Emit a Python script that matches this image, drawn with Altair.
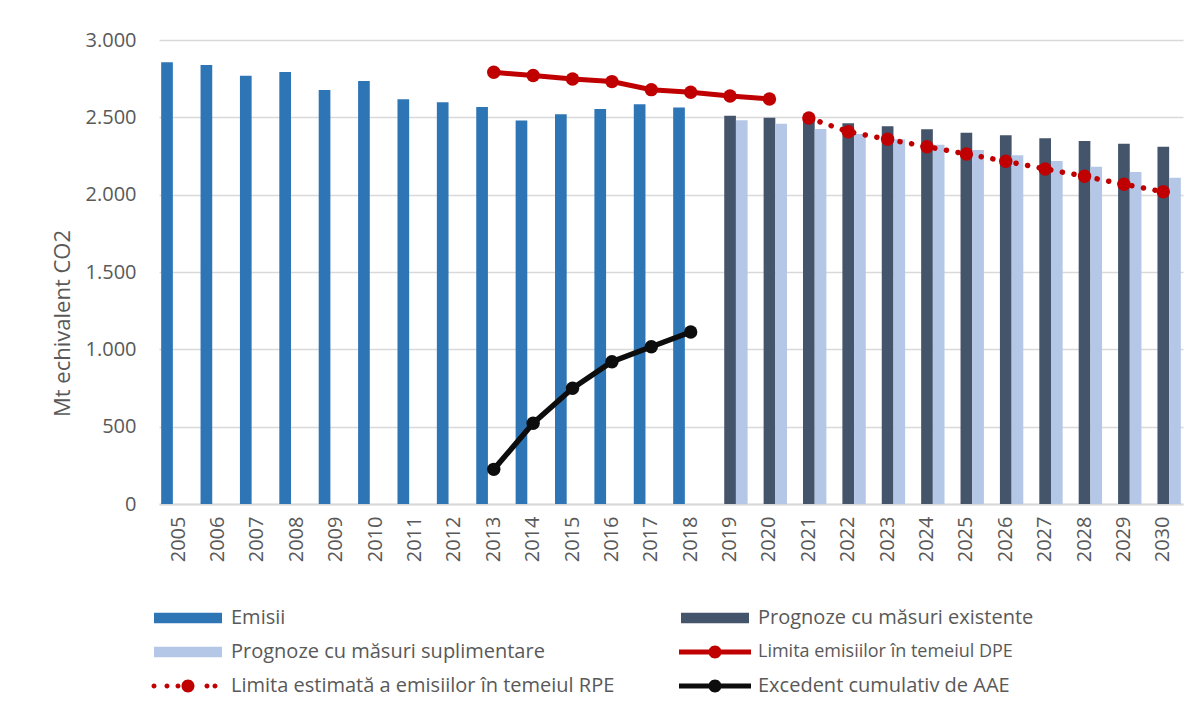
import altair as alt
import pandas as pd

years = ["2005", "2006", "2007", "2008", "2009", "2010", "2011", "2012", "2013",
         "2014", "2015", "2016", "2017", "2018", "2019", "2020", "2021", "2022",
         "2023", "2024", "2025", "2026", "2027", "2028", "2029", "2030"]

series_names = ["Emisii",
                "Prognoze cu măsuri existente",
                "Prognoze cu măsuri suplimentare",
                "Limita emisiilor în temeiul DPE",
                "Limita estimată a emisiilor în temeiul RPE",
                "Excedent cumulativ de AAE"]

emisii_years = years[0:14]
emisii = [2856, 2839, 2769, 2793, 2677, 2735, 2617, 2597, 2567, 2479, 2520, 2554, 2584, 2563]

proj_years = years[14:]
existente = [2511, 2498, 2480, 2462, 2442, 2423, 2401, 2384, 2364, 2347, 2330, 2310]
suplimentare = [2481, 2459, 2425, 2392, 2358, 2323, 2289, 2255, 2218, 2181, 2147, 2110]

dpe_years = years[8:16]
dpe = [2791, 2770, 2748, 2731, 2679, 2662, 2638, 2619]

rpe_years = years[16:]
rpe = [2496, 2407, 2358, 2310, 2263, 2216, 2166, 2119, 2067, 2019]

aae_years = years[8:14]
aae = [224, 522, 748, 920, 1017, 1112]

y_ticks = [0, 500, 1000, 1500, 2000, 2500, 3000]

colors = ["#2E75B6", "#44546A", "#B4C7E7", "#C00000", "#C00000", "#0D0D0D"]

# legend symbol shapes (unit coordinates, scaled by legend symbol size)
rect_path = "M-6.8,-1.06H6.8V1.06H-6.8Z"


def circ(cx, r):
    return f"M{cx - r},0A{r},{r} 0 1,1 {cx + r},0A{r},{r} 0 1,1 {cx - r},0Z"


line_marker_path = "M-7.2,-0.5H7.2V0.5H-7.2Z " + circ(0, 1.3)
dotted_path = " ".join([circ(-6.8, 0.5), circ(-4.2, 0.5), circ(-2.0, 0.5), circ(0, 1.3),
                        circ(3.8, 0.5), circ(5.4, 0.5)])
shapes = [rect_path, rect_path, rect_path, line_marker_path, dotted_path, line_marker_path]

bars = pd.DataFrame({
    "year": emisii_years + proj_years + proj_years,
    "series": [series_names[0]] * len(emisii) + [series_names[1]] * len(existente)
              + [series_names[2]] * len(suplimentare),
    "value": emisii + existente + suplimentare,
})
dpe_df = pd.DataFrame({"year": dpe_years, "value": dpe})
rpe_df = pd.DataFrame({"year": rpe_years, "value": rpe})
aae_df = pd.DataFrame({"year": aae_years, "value": aae})
legend_df = pd.DataFrame({"series": series_names, "value": [None] * len(series_names)})

FONT = "Open Sans"
GRAY = "#595959"

x_scale = alt.Scale(domain=years, paddingInner=0.11, paddingOuter=0.055)
y_scale = alt.Scale(domain=[0, 3000], nice=False)
color_scale = alt.Scale(domain=series_names, range=colors)
fill_scale = alt.Scale(domain=series_names[:3], range=colors[:3])
shape_scale = alt.Scale(domain=series_names, range=shapes)

x_enc = alt.X("year:N", scale=x_scale, sort=years,
              axis=alt.Axis(title=None, labelAngle=270, labelFontSize=20, labelFont=FONT,
                            labelColor=GRAY, labelPadding=12, ticks=False,
                            domainColor="#D9D9D9", domainWidth=2, grid=False))
y_enc = alt.Y("value:Q", scale=y_scale, stack=None,
              axis=alt.Axis(title="Mt echivalent CO2", values=y_ticks,
                            labelExpr="replace(format(datum.value, ','), ',', '.')",
                            labelFontSize=20, labelFont=FONT, labelColor=GRAY,
                            labelPadding=23, titleFontSize=22, titleFont=FONT,
                            titleFontWeight="normal", titleColor=GRAY,
                            titleAngle=270, titleAlign="center", titleBaseline="middle",
                            titleX=-97, titleY=283,
                            domain=False, ticks=False, gridColor="#D9D9D9", gridWidth=1.5))

bar_layer = alt.Chart(bars).mark_bar(opacity=1).encode(
    x=x_enc,
    y=y_enc,
    xOffset=alt.XOffset("series:N", scale=alt.Scale(domain=series_names[:3], paddingInner=0, paddingOuter=0)),
    fill=alt.Fill("series:N", scale=fill_scale, legend=None),
)

rpe_layer = alt.Chart(rpe_df).mark_line(
    color="#C00000", strokeWidth=5.5, strokeDash=[0.1, 11.7], strokeCap="round",
    point=alt.OverlayMarkDef(size=180, filled=True, color="#C00000", opacity=1),
).encode(x=alt.X("year:N", scale=x_scale, sort=years), y=alt.Y("value:Q", scale=y_scale))

dpe_layer = alt.Chart(dpe_df).mark_line(
    color="#C00000", strokeWidth=5,
    point=alt.OverlayMarkDef(size=180, filled=True, color="#C00000", opacity=1),
).encode(x=alt.X("year:N", scale=x_scale, sort=years), y=alt.Y("value:Q", scale=y_scale))

aae_layer = alt.Chart(aae_df).mark_line(
    color="#0D0D0D", strokeWidth=5.5,
    point=alt.OverlayMarkDef(size=180, filled=True, color="#0D0D0D", opacity=1),
).encode(x=alt.X("year:N", scale=x_scale, sort=years), y=alt.Y("value:Q", scale=y_scale))

legend_def = alt.Legend(
    title=None, orient="none", legendX=-4, legendY=568, columns=2, direction="horizontal",
    symbolSize=100, symbolStrokeWidth=0, symbolOffset=23, labelOffset=33,
    labelFont=FONT,
    labelFontSize={"expr": "datum.label == 'Limita emisiilor în temeiul DPE' ? 18 : 20"},
    labelColor=GRAY, labelLimit=700,
    rowPadding=14, columnPadding=64,
)

legend_layer = alt.Chart(legend_df).mark_point(filled=True, opacity=1, strokeWidth=0).encode(
    y=alt.Y("value:Q", scale=y_scale),
    color=alt.Color("series:N", scale=color_scale, legend=legend_def),
    shape=alt.Shape("series:N", scale=shape_scale, legend=legend_def),
)

chart = alt.layer(bar_layer, rpe_layer, dpe_layer, aae_layer, legend_layer).properties(
    width=1024, height=464,
    padding={"left": 151, "top": 32, "right": 7, "bottom": 200},
    autosize=alt.AutoSizeParams(type="none"),
    background="white",
).configure_view(stroke=None)

chart.save("out.html", embed_options={"renderer": "svg", "actions": False})
